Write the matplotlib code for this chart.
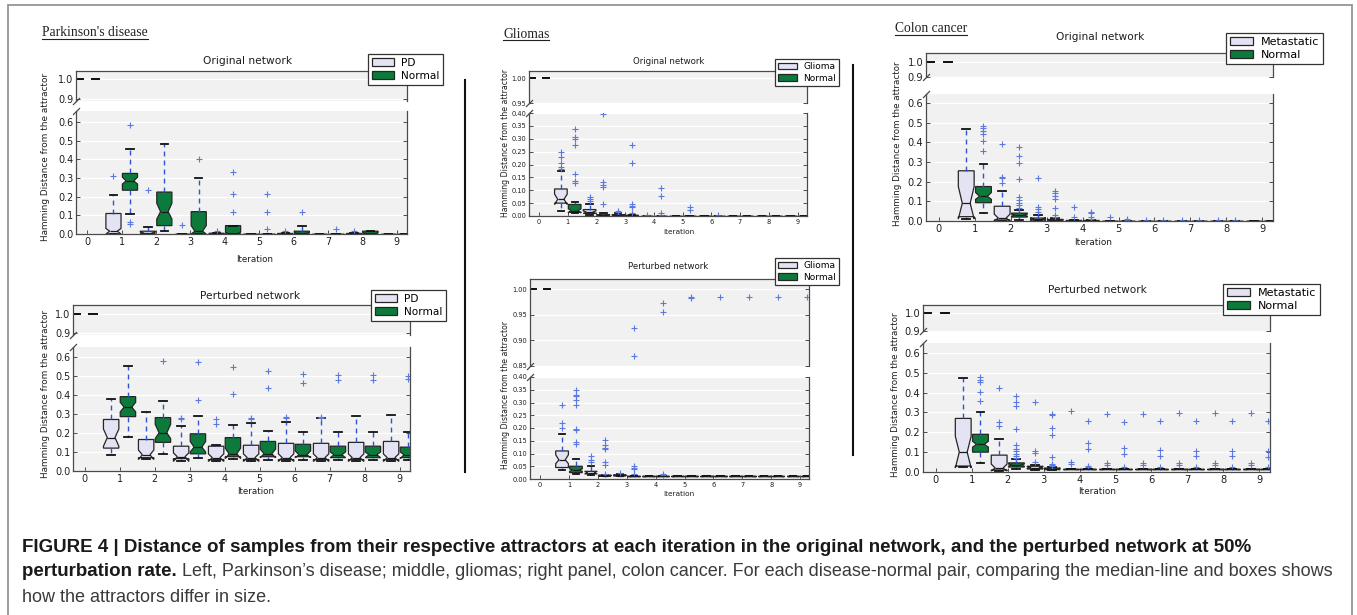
import matplotlib
matplotlib.use("Agg")
import matplotlib.pyplot as plt
from matplotlib.lines import Line2D
from matplotlib.patches import Patch, Rectangle
from matplotlib.ticker import FormatStrFormatter

W, H, DPI = 1357, 615, 100
ITERATIONS = list(range(10))

# Box statistics per iteration.
# columns: whisker low, Q1, median, Q3, whisker high, notch low, notch high
pd_orig_pd = [
    (1.0, 1.0, 1.0, 1.0, 1.0, 1.0, 1.0),
    (0.0, 0.0, 0.015, 0.11, 0.21, 0.0, 0.03),
    (0.0, 0.0, 0.005, 0.015, 0.04, 0.0, 0.01),
    (0.0, 0.0, 0.0, 0.0, 0.0, 0.0, 0.0),
    (0.0, 0.0, 0.0, 0.004, 0.004, 0.0, 0.002),
    (0.0, 0.0, 0.0, 0.0, 0.0, 0.0, 0.0),
    (0.0, 0.0, 0.0, 0.003, 0.003, 0.0, 0.001),
    (0.0, 0.0, 0.0, 0.0, 0.0, 0.0, 0.0),
    (0.0, 0.0, 0.0, 0.003, 0.003, 0.0, 0.001),
    (0.0, 0.0, 0.0, 0.0, 0.0, 0.0, 0.0),
]
pd_orig_pd_out = [[], [0.31], [0.235], [0.05], [0.015], [], [0.015], [], [0.015], []]

pd_orig_nor = [
    (1.0, 1.0, 1.0, 1.0, 1.0, 1.0, 1.0),
    (0.11, 0.235, 0.285, 0.325, 0.455, 0.268, 0.305),
    (0.015, 0.045, 0.12, 0.225, 0.485, 0.08, 0.165),
    (0.0, 0.0, 0.015, 0.12, 0.30, 0.0, 0.045),
    (0.0, 0.0, 0.0, 0.045, 0.045, 0.0, 0.01),
    (0.0, 0.0, 0.0, 0.0, 0.0, 0.0, 0.0),
    (0.0, 0.0, 0.003, 0.015, 0.045, 0.0, 0.008),
    (0.0, 0.0, 0.0, 0.0, 0.0, 0.0, 0.0),
    (0.0, 0.0, 0.003, 0.015, 0.015, 0.0, 0.008),
    (0.0, 0.0, 0.0, 0.0, 0.0, 0.0, 0.0),
]
pd_orig_nor_out = [[], [0.055, 0.065, 0.585], [], [0.405], [0.12, 0.215, 0.33],
                   [0.025, 0.12, 0.215], [0.12], [0.028], [], []]

pd_pert_pd = [
    (1.0, 1.0, 1.0, 1.0, 1.0, 1.0, 1.0),
    (0.085, 0.12, 0.175, 0.27, 0.38, 0.13, 0.22),
    (0.065, 0.07, 0.085, 0.165, 0.31, 0.06, 0.11),
    (0.055, 0.065, 0.075, 0.13, 0.235, 0.05, 0.095),
    (0.05, 0.06, 0.07, 0.13, 0.135, 0.05, 0.09),
    (0.05, 0.06, 0.07, 0.135, 0.25, 0.05, 0.09),
    (0.05, 0.06, 0.07, 0.145, 0.255, 0.05, 0.09),
    (0.05, 0.06, 0.07, 0.145, 0.28, 0.05, 0.09),
    (0.05, 0.06, 0.07, 0.15, 0.29, 0.05, 0.09),
    (0.05, 0.06, 0.07, 0.155, 0.295, 0.05, 0.09),
]
pd_pert_pd_out = [[], [], [], [0.27, 0.28], [0.245, 0.275], [0.275, 0.28],
                  [0.28, 0.285], [0.28, 0.285], [], []]

pd_pert_nor = [
    (1.0, 1.0, 1.0, 1.0, 1.0, 1.0, 1.0),
    (0.18, 0.285, 0.335, 0.39, 0.55, 0.31, 0.36),
    (0.09, 0.15, 0.2, 0.28, 0.365, 0.17, 0.245),
    (0.07, 0.09, 0.125, 0.195, 0.29, 0.1, 0.155),
    (0.065, 0.075, 0.09, 0.175, 0.24, 0.065, 0.12),
    (0.06, 0.075, 0.09, 0.155, 0.21, 0.07, 0.115),
    (0.06, 0.075, 0.085, 0.14, 0.205, 0.07, 0.105),
    (0.06, 0.07, 0.085, 0.13, 0.205, 0.07, 0.1),
    (0.06, 0.07, 0.085, 0.13, 0.205, 0.07, 0.1),
    (0.06, 0.07, 0.085, 0.125, 0.205, 0.065, 0.1),
]
pd_pert_nor_out = [[], [], [0.575], [0.37, 0.57], [0.405, 0.545], [0.435, 0.525],
                   [0.46, 0.51], [0.475, 0.505], [0.475, 0.505], [0.48, 0.5]]

gl_orig_gl = [
    (1.0, 1.0, 1.0, 1.0, 1.0, 1.0, 1.0),
    (0.02, 0.05, 0.065, 0.105, 0.175, 0.045, 0.085),
    (0.005, 0.01, 0.015, 0.025, 0.045, 0.01, 0.02),
    (0.0, 0.0, 0.002, 0.005, 0.01, 0.0, 0.004),
    (0.0, 0.0, 0.0, 0.0, 0.0, 0.0, 0.0),
    (0.0, 0.0, 0.0, 0.0, 0.0, 0.0, 0.0),
    (0.0, 0.0, 0.0, 0.0, 0.0, 0.0, 0.0),
    (0.0, 0.0, 0.0, 0.0, 0.0, 0.0, 0.0),
    (0.0, 0.0, 0.0, 0.0, 0.0, 0.0, 0.0),
    (0.0, 0.0, 0.0, 0.0, 0.0, 0.0, 0.0),
]
gl_orig_gl_out = [[], [0.184, 0.192, 0.206, 0.23, 0.25], [0.058, 0.067, 0.075],
                  [0.015, 0.02], [0.004], [], [], [], [], []]

gl_orig_nor = [
    (1.0, 1.0, 1.0, 1.0, 1.0, 1.0, 1.0),
    (0.01, 0.015, 0.02, 0.045, 0.055, 0.012, 0.028),
    (0.0, 0.0, 0.002, 0.005, 0.01, 0.0, 0.004),
    (0.0, 0.0, 0.0, 0.003, 0.005, 0.0, 0.002),
    (0.0, 0.0, 0.0, 0.0, 0.0, 0.0, 0.0),
    (0.0, 0.0, 0.0, 0.0, 0.0, 0.0, 0.0),
    (0.0, 0.0, 0.0, 0.0, 0.0, 0.0, 0.0),
    (0.0, 0.0, 0.0, 0.0, 0.0, 0.0, 0.0),
    (0.0, 0.0, 0.0, 0.0, 0.0, 0.0, 0.0),
    (0.0, 0.0, 0.0, 0.0, 0.0, 0.0, 0.0),
]
gl_orig_nor_out = [[], [0.13, 0.136, 0.163, 0.275, 0.299, 0.305, 0.336],
                   [0.046, 0.111, 0.121, 0.132, 0.398],
                   [0.01, 0.035, 0.04, 0.045, 0.205, 0.275],
                   [0.005, 0.01, 0.079, 0.11], [0.025, 0.035], [0.005], [], [], []]

gl_pert_gl = [
    (1.0, 1.0, 1.0, 1.0, 1.0, 1.0, 1.0),
    (0.035, 0.045, 0.075, 0.11, 0.175, 0.06, 0.095),
    (0.015, 0.02, 0.025, 0.03, 0.05, 0.02, 0.03),
    (0.013, 0.013, 0.013, 0.016, 0.02, 0.013, 0.015),
    (0.013, 0.013, 0.013, 0.013, 0.013, 0.013, 0.013),
    (0.013, 0.013, 0.013, 0.013, 0.013, 0.013, 0.013),
    (0.013, 0.013, 0.013, 0.013, 0.013, 0.013, 0.013),
    (0.013, 0.013, 0.013, 0.013, 0.013, 0.013, 0.013),
    (0.013, 0.013, 0.013, 0.013, 0.013, 0.013, 0.013),
    (0.013, 0.013, 0.013, 0.013, 0.013, 0.013, 0.013),
]
gl_pert_gl_out = [[], [0.2, 0.22, 0.29], [0.068, 0.074, 0.091], [0.025],
                  [], [], [], [], [], []]

gl_pert_nor = [
    (1.0, 1.0, 1.0, 1.0, 1.0, 1.0, 1.0),
    (0.02, 0.025, 0.035, 0.05, 0.08, 0.03, 0.04),
    (0.012, 0.012, 0.013, 0.015, 0.015, 0.012, 0.014),
    (0.013, 0.013, 0.013, 0.013, 0.013, 0.013, 0.013),
    (0.013, 0.013, 0.013, 0.013, 0.013, 0.013, 0.013),
    (0.013, 0.013, 0.013, 0.013, 0.013, 0.013, 0.013),
    (0.013, 0.013, 0.013, 0.013, 0.013, 0.013, 0.013),
    (0.013, 0.013, 0.013, 0.013, 0.013, 0.013, 0.013),
    (0.013, 0.013, 0.013, 0.013, 0.013, 0.013, 0.013),
    (0.013, 0.013, 0.013, 0.013, 0.013, 0.013, 0.013),
]
gl_pert_nor_out = [[], [0.137, 0.146, 0.191, 0.197, 0.289, 0.311, 0.324, 0.331, 0.35],
                   [0.018, 0.055, 0.065, 0.117, 0.122, 0.133, 0.151],
                   [0.02, 0.04, 0.045, 0.05, 0.87, 0.925],
                   [0.015, 0.02, 0.956, 0.974], [0.982, 0.985],
                   [0.985], [0.985], [0.985], [0.985]]

co_orig_met = [
    (1.0, 1.0, 1.0, 1.0, 1.0, 1.0, 1.0),
    (0.012, 0.022, 0.09, 0.255, 0.465, 0.01, 0.175),
    (0.0, 0.005, 0.015, 0.075, 0.15, 0.0, 0.035),
    (0.0, 0.005, 0.01, 0.015, 0.03, 0.005, 0.015),
    (0.0, 0.0, 0.0, 0.003, 0.005, 0.0, 0.002),
    (0.0, 0.0, 0.0, 0.0, 0.0, 0.0, 0.0),
    (0.0, 0.0, 0.0, 0.0, 0.0, 0.0, 0.0),
    (0.0, 0.0, 0.0, 0.0, 0.0, 0.0, 0.0),
    (0.0, 0.0, 0.0, 0.0, 0.0, 0.0, 0.0),
    (0.0, 0.0, 0.0, 0.0, 0.0, 0.0, 0.0),
]
co_orig_met_out = [[], [], [0.194, 0.216, 0.225, 0.39], [0.047, 0.062, 0.073, 0.216],
                   [0.02, 0.073], [0.02], [0.005], [0.003], [0.003], []]

co_orig_nor = [
    (1.0, 1.0, 1.0, 1.0, 1.0, 1.0, 1.0),
    (0.039, 0.093, 0.125, 0.175, 0.29, 0.11, 0.145),
    (0.005, 0.02, 0.03, 0.04, 0.056, 0.025, 0.035),
    (0.0, 0.0, 0.003, 0.008, 0.015, 0.0, 0.006),
    (0.0, 0.0, 0.0, 0.003, 0.005, 0.0, 0.002),
    (0.0, 0.0, 0.0, 0.0, 0.0, 0.0, 0.0),
    (0.0, 0.0, 0.0, 0.0, 0.0, 0.0, 0.0),
    (0.0, 0.0, 0.0, 0.0, 0.0, 0.0, 0.0),
    (0.0, 0.0, 0.0, 0.0, 0.0, 0.0, 0.0),
    (0.0, 0.0, 0.0, 0.0, 0.0, 0.0, 0.0),
]
co_orig_nor_out = [[], [0.355, 0.405, 0.444, 0.456, 0.47, 0.481],
                   [0.068, 0.079, 0.091, 0.106, 0.123, 0.211, 0.296, 0.329, 0.375],
                   [0.022, 0.03, 0.068, 0.11, 0.128, 0.14, 0.154],
                   [0.01, 0.02, 0.04, 0.045], [0.005, 0.01], [0.005], [0.003], [0.003], []]

co_pert_met = [
    (1.0, 1.0, 1.0, 1.0, 1.0, 1.0, 1.0),
    (0.025, 0.03, 0.1, 0.27, 0.475, 0.02, 0.18),
    (0.005, 0.01, 0.02, 0.085, 0.167, 0.005, 0.04),
    (0.012, 0.015, 0.022, 0.029, 0.035, 0.018, 0.026),
    (0.015, 0.015, 0.015, 0.015, 0.015, 0.015, 0.015),
    (0.015, 0.015, 0.015, 0.015, 0.015, 0.015, 0.015),
    (0.015, 0.015, 0.015, 0.015, 0.015, 0.015, 0.015),
    (0.015, 0.015, 0.015, 0.015, 0.015, 0.015, 0.015),
    (0.015, 0.015, 0.015, 0.015, 0.015, 0.015, 0.015),
    (0.015, 0.015, 0.015, 0.015, 0.015, 0.015, 0.015),
]
co_pert_met_out = [[], [], [0.231, 0.25, 0.425], [0.05, 0.095, 0.105, 0.353],
                   [0.04, 0.05, 0.307], [0.035, 0.045, 0.29], [0.035, 0.045, 0.29],
                   [0.035, 0.045, 0.295], [0.035, 0.045, 0.295], [0.035, 0.045, 0.295]]

co_pert_nor = [
    (1.0, 1.0, 1.0, 1.0, 1.0, 1.0, 1.0),
    (0.044, 0.1, 0.139, 0.19, 0.30, 0.125, 0.155),
    (0.015, 0.025, 0.035, 0.046, 0.063, 0.03, 0.04),
    (0.01, 0.012, 0.015, 0.02, 0.025, 0.012, 0.018),
    (0.015, 0.015, 0.015, 0.015, 0.015, 0.015, 0.015),
    (0.015, 0.015, 0.015, 0.015, 0.015, 0.015, 0.015),
    (0.015, 0.015, 0.015, 0.015, 0.015, 0.015, 0.015),
    (0.015, 0.015, 0.015, 0.015, 0.015, 0.015, 0.015),
    (0.015, 0.015, 0.015, 0.015, 0.015, 0.015, 0.015),
    (0.015, 0.015, 0.015, 0.015, 0.015, 0.015, 0.015),
]
co_pert_nor_out = [[], [0.36, 0.405, 0.454, 0.464, 0.48],
                   [0.07, 0.08, 0.09, 0.105, 0.115, 0.135, 0.215, 0.335, 0.355, 0.385],
                   [0.03, 0.035, 0.04, 0.075, 0.185, 0.22, 0.285, 0.29],
                   [0.025, 0.03, 0.118, 0.147, 0.257], [0.025, 0.09, 0.12, 0.25],
                   [0.025, 0.08, 0.11, 0.255], [0.025, 0.08, 0.105, 0.255],
                   [0.025, 0.08, 0.105, 0.255], [0.025, 0.075, 0.105, 0.255]]

# Tick values
ticks_tenths = [0.0, 0.1, 0.2, 0.3, 0.4, 0.5, 0.6]
ticks_twentieths = [0.0, 0.05, 0.10, 0.15, 0.20, 0.25, 0.30, 0.35, 0.40]
ticks_upper = [0.9, 1.0]
ticks_gl_orig_upper = [0.95, 1.00]
ticks_gl_pert_upper = [0.85, 0.90, 0.95, 1.00]

headings = ["Parkinson's disease", "Gliomas", "Colon cancer"]
caption_line1 = ("FIGURE 4 | Distance of samples from their respective attractors at each "
                 "iteration in the original network, and the perturbed network at 50%")
caption_bold2 = "perturbation rate."
caption_rest2 = (" Left, Parkinson\u2019s disease; middle, gliomas; right panel, colon cancer. "
                 "For each disease-normal pair, comparing the median-line and boxes shows")
caption_line3 = "how the attractors differ in size."

# Colours
LAVENDER = '#e3e3f3'
GREEN = '#0c7a3b'
EDGE = '#262626'
WHISKER = '#2f52d4'
FLIER = '#5b79e0'
CAP = '#111111'
MEDIAN = '#1a1a1a'
AXBG = '#f1f1f1'
SPINE = '#4a4a4a'
BOX_WIDTH = 0.44
OFFSETS = (-0.24, 0.24)

fig = plt.figure(figsize=(W / DPI, H / DPI), dpi=DPI)
fig.patch.set_facecolor('white')


def fpos(x, y):
    return x / W, 1 - y / H


def axes_px(box):
    x0, y0, x1, y1 = box
    return fig.add_axes([x0 / W, 1 - y1 / H, (x1 - x0) / W, (y1 - y0) / H])


def style_axes(ax, fs, upper):
    ax.set_facecolor(AXBG)
    ax.set_axisbelow(True)
    ax.yaxis.grid(True, color='white', linewidth=1.0)
    for side in ('left', 'right', 'top', 'bottom'):
        ax.spines[side].set_color(SPINE)
        ax.spines[side].set_linewidth(0.9)
    ax.spines['bottom' if upper else 'top'].set_visible(False)
    ax.yaxis.set_ticks_position('both')
    ax.tick_params(direction='in', length=3, width=0.7, color=SPINE,
                   labelsize=fs, pad=2, labelcolor='#1e1e1e')
    if upper:
        ax.set_xticks([])
    else:
        ax.xaxis.set_ticks_position('bottom')
        ax.set_xticks(ITERATIONS)
        ax.set_xticklabels([str(i) for i in ITERATIONS])


def draw_group(ax, rows, outliers, offset, face):
    stats = [dict(whislo=r[0], q1=r[1], med=r[2], q3=r[3], whishi=r[4],
                  cilo=r[5], cihi=r[6], fliers=list(o))
             for r, o in zip(rows, outliers)]
    pos = [i + offset for i in ITERATIONS]
    common = dict(widths=BOX_WIDTH, patch_artist=True, manage_ticks=False,
                  whiskerprops=dict(color=WHISKER, linestyle=(0, (3.5, 3)), linewidth=1.0),
                  capprops=dict(color=CAP, linewidth=1.3),
                  flierprops=dict(marker='+', markeredgecolor=FLIER, markersize=4,
                                  markeredgewidth=0.8, linestyle='none'))
    # iteration 0: all samples start at the same distance, only the caps remain visible
    ax.bxp(stats[:1], positions=pos[:1], showbox=False,
           medianprops=dict(linewidth=0), **common)
    ax.bxp(stats[1:], positions=pos[1:], shownotches=True,
           boxprops=dict(facecolor=face, edgecolor=EDGE, linewidth=0.9),
           medianprops=dict(color=MEDIAN, linewidth=0.9), **common)


def panel(spec):
    ax_hi = axes_px(spec['hi'])
    ax_lo = axes_px(spec['lo'])
    fs = spec['fs']
    for ax, upper in ((ax_hi, True), (ax_lo, False)):
        style_axes(ax, fs['tick'], upper)
        draw_group(ax, spec['dis'], spec['dis_out'], OFFSETS[0], LAVENDER)
        draw_group(ax, spec['nor'], spec['nor_out'], OFFSETS[1], GREEN)
        ax.set_xlim(spec['xlim'])
        ax.yaxis.set_major_formatter(FormatStrFormatter(spec['fmt']))
    ax_hi.set_ylim(spec['hi_lim'])
    ax_lo.set_ylim(spec['lo_lim'])
    ax_hi.set_yticks(spec['hi_ticks'])
    ax_lo.set_yticks(spec['lo_ticks'])

    # diagonal break marks on the left spine
    kw = dict(marker=[(-1, -1), (1, 1)], markersize=5, linestyle='none',
              color=SPINE, mec=SPINE, mew=0.9, clip_on=False)
    ax_hi.plot([0], [0], transform=ax_hi.transAxes, **kw)
    ax_lo.plot([0], [1], transform=ax_lo.transAxes, **kw)

    handles = [Patch(facecolor=LAVENDER, edgecolor=EDGE, linewidth=0.9, label=spec['labels'][0]),
               Patch(facecolor=GREEN, edgecolor=EDGE, linewidth=0.9, label=spec['labels'][1])]
    leg = ax_hi.legend(handles=handles, loc='upper left', bbox_to_anchor=fpos(*spec['legend']),
                       bbox_transform=fig.transFigure, fontsize=fs['legend'], frameon=True,
                       fancybox=False, framealpha=1, edgecolor='#333333', borderpad=0.35,
                       labelspacing=0.3, handlelength=2.1, handleheight=0.75,
                       handletextpad=0.7, borderaxespad=0)
    leg.get_frame().set_linewidth(0.9)
    leg.set_zorder(10)

    fig.text(*fpos(*spec['title_xy']), spec['title'], fontsize=fs['title'],
             ha='center', va='center', color='#1e1e1e')
    fig.text(*fpos(*spec['xlabel_xy']), 'Iteration', fontsize=fs['xlabel'],
             ha='center', va='center', color='#1e1e1e')
    fig.text(*fpos(*spec['ylabel_xy']), 'Hamming Distance from the attractor',
             fontsize=fs['ylabel'], rotation=90, ha='center', va='center', color='#1e1e1e')


FS_PD = dict(tick=6.9, title=7.7, ylabel=6.4, xlabel=6.3, legend=7.6)
FS_GL = dict(tick=4.8, title=6.2, ylabel=5.6, xlabel=5.3, legend=6.5)
FS_CO = dict(tick=7.1, title=7.6, ylabel=6.3, xlabel=6.4, legend=8.0)

panels = [
    dict(hi=(76, 71, 407, 101), lo=(76, 111, 407, 234), xlim=(-0.33, 9.3),
         hi_lim=(0.888, 1.044), lo_lim=(0.0, 0.66), hi_ticks=ticks_upper, lo_ticks=ticks_tenths,
         fmt='%.1f', fs=FS_PD, dis=pd_orig_pd, dis_out=pd_orig_pd_out,
         nor=pd_orig_nor, nor_out=pd_orig_nor_out, labels=('PD', 'Normal'),
         legend=(368, 54), title='Original network', title_xy=(248, 61),
         xlabel_xy=(255, 259), ylabel_xy=(46, 157)),
    dict(hi=(73, 305, 410, 335), lo=(73, 347, 410, 471), xlim=(-0.33, 9.3),
         hi_lim=(0.891, 1.049), lo_lim=(0.0, 0.65), hi_ticks=ticks_upper, lo_ticks=ticks_tenths,
         fmt='%.1f', fs=FS_PD, dis=pd_pert_pd, dis_out=pd_pert_pd_out,
         nor=pd_pert_nor, nor_out=pd_pert_nor_out, labels=('PD', 'Normal'),
         legend=(371, 290), title='Perturbed network', title_xy=(250, 296),
         xlabel_xy=(256, 491), ylabel_xy=(46, 394)),
    dict(hi=(529, 71, 807, 103), lo=(529, 113, 807, 216), xlim=(-0.35, 9.33),
         hi_lim=(0.95, 1.015), lo_lim=(0.0, 0.40), hi_ticks=ticks_gl_orig_upper,
         lo_ticks=ticks_twentieths, fmt='%.2f', fs=FS_GL, dis=gl_orig_gl, dis_out=gl_orig_gl_out,
         nor=gl_orig_nor, nor_out=gl_orig_nor_out, labels=('Glioma', 'Normal'),
         legend=(775, 59), title='Original network', title_xy=(669, 61),
         xlabel_xy=(679, 232), ylabel_xy=(505, 143)),
    dict(hi=(530, 279, 809, 366), lo=(530, 377, 809, 479), xlim=(-0.35, 9.31),
         hi_lim=(0.85, 1.02), lo_lim=(0.0, 0.40), hi_ticks=ticks_gl_pert_upper,
         lo_ticks=ticks_twentieths, fmt='%.2f', fs=FS_GL, dis=gl_pert_gl, dis_out=gl_pert_gl_out,
         nor=gl_pert_nor, nor_out=gl_pert_nor_out, labels=('Glioma', 'Normal'),
         legend=(775, 258), title='Perturbed network', title_xy=(668, 267),
         xlabel_xy=(679, 494), ylabel_xy=(506, 395)),
    dict(hi=(926, 53, 1273, 77), lo=(926, 94, 1273, 221), xlim=(-0.36, 9.3),
         hi_lim=(0.9, 1.055), lo_lim=(0.0, 0.645), hi_ticks=ticks_upper, lo_ticks=ticks_tenths,
         fmt='%.1f', fs=FS_CO, dis=co_orig_met, dis_out=co_orig_met_out,
         nor=co_orig_nor, nor_out=co_orig_nor_out, labels=('Metastatic', 'Normal'),
         legend=(1226, 33), title='Original network', title_xy=(1100, 37),
         xlabel_xy=(1093, 242), ylabel_xy=(897, 144)),
    dict(hi=(923, 305, 1270, 331), lo=(923, 343, 1270, 472), xlim=(-0.36, 9.3),
         hi_lim=(0.9, 1.048), lo_lim=(0.0, 0.65), hi_ticks=ticks_upper, lo_ticks=ticks_tenths,
         fmt='%.1f', fs=FS_CO, dis=co_pert_met, dis_out=co_pert_met_out,
         nor=co_pert_nor, nor_out=co_pert_nor_out, labels=('Metastatic', 'Normal'),
         legend=(1223, 284), title='Perturbed network', title_xy=(1097, 290),
         xlabel_xy=(1097, 491), ylabel_xy=(895, 395)),
]

for spec in panels:
    panel(spec)

# Frame around the whole figure and the dividers between diseases
fig.add_artist(Rectangle(fpos(8, 625), (1352 - 8) / W, (625 - 5) / H, fill=False,
                         edgecolor='#8c8c8c', linewidth=1.2, clip_on=False))
for x, y0, y1 in ((465, 80, 472), (853, 65, 455)):
    fig.add_artist(Line2D([x / W, x / W], [1 - y0 / H, 1 - y1 / H], color='#111111', linewidth=1.5))

# Underlined disease headings
heading_pos = [(42, 36.5), (503, 37.5), (895, 32.5)]
heading_texts = []
for text, (x, y) in zip(headings, heading_pos):
    heading_texts.append(fig.text(*fpos(x, y), text, fontsize=9.8, family='Liberation Serif',
                                  ha='left', va='baseline', color='#222222'))

# Caption: bold lead-in, regular body
CAP_FONT = 'Liberation Sans'
cap_left = 22
cap_y = (547, 572, 597)
t1 = fig.text(*fpos(cap_left, cap_y[0]), caption_line1, fontsize=12, fontweight='bold',
              family=CAP_FONT, ha='left', va='center', color='#1a1a1a')
fig.canvas.draw()
renderer = fig.canvas.get_renderer()
bold_fs = 12 * 1230 / t1.get_window_extent(renderer).width
t1.set_fontsize(bold_fs)
t2 = fig.text(*fpos(cap_left, cap_y[1]), caption_bold2, fontsize=bold_fs, fontweight='bold',
              family=CAP_FONT, ha='left', va='center', color='#1a1a1a')
fig.canvas.draw()
bb2 = t2.get_window_extent(renderer)
t2r = fig.text(bb2.x1 / W, 1 - cap_y[1] / H, caption_rest2, fontsize=bold_fs, family=CAP_FONT,
               ha='left', va='center', color='#3a3a3a')
fig.canvas.draw()
reg_fs = bold_fs * (1324 - bb2.x1) / t2r.get_window_extent(renderer).width
t2r.set_fontsize(reg_fs)
fig.text(*fpos(cap_left, cap_y[2]), caption_line3, fontsize=reg_fs, family=CAP_FONT,
         ha='left', va='center', color='#3a3a3a')

for t, (x, y) in zip(heading_texts, heading_pos):
    bb = t.get_window_extent(renderer)
    yline = (H - y - 2) / H
    fig.add_artist(Line2D([bb.x0 / W, bb.x1 / W], [yline, yline], color='#222222', linewidth=0.8))

fig.savefig('out.png', dpi=DPI, facecolor='white')
